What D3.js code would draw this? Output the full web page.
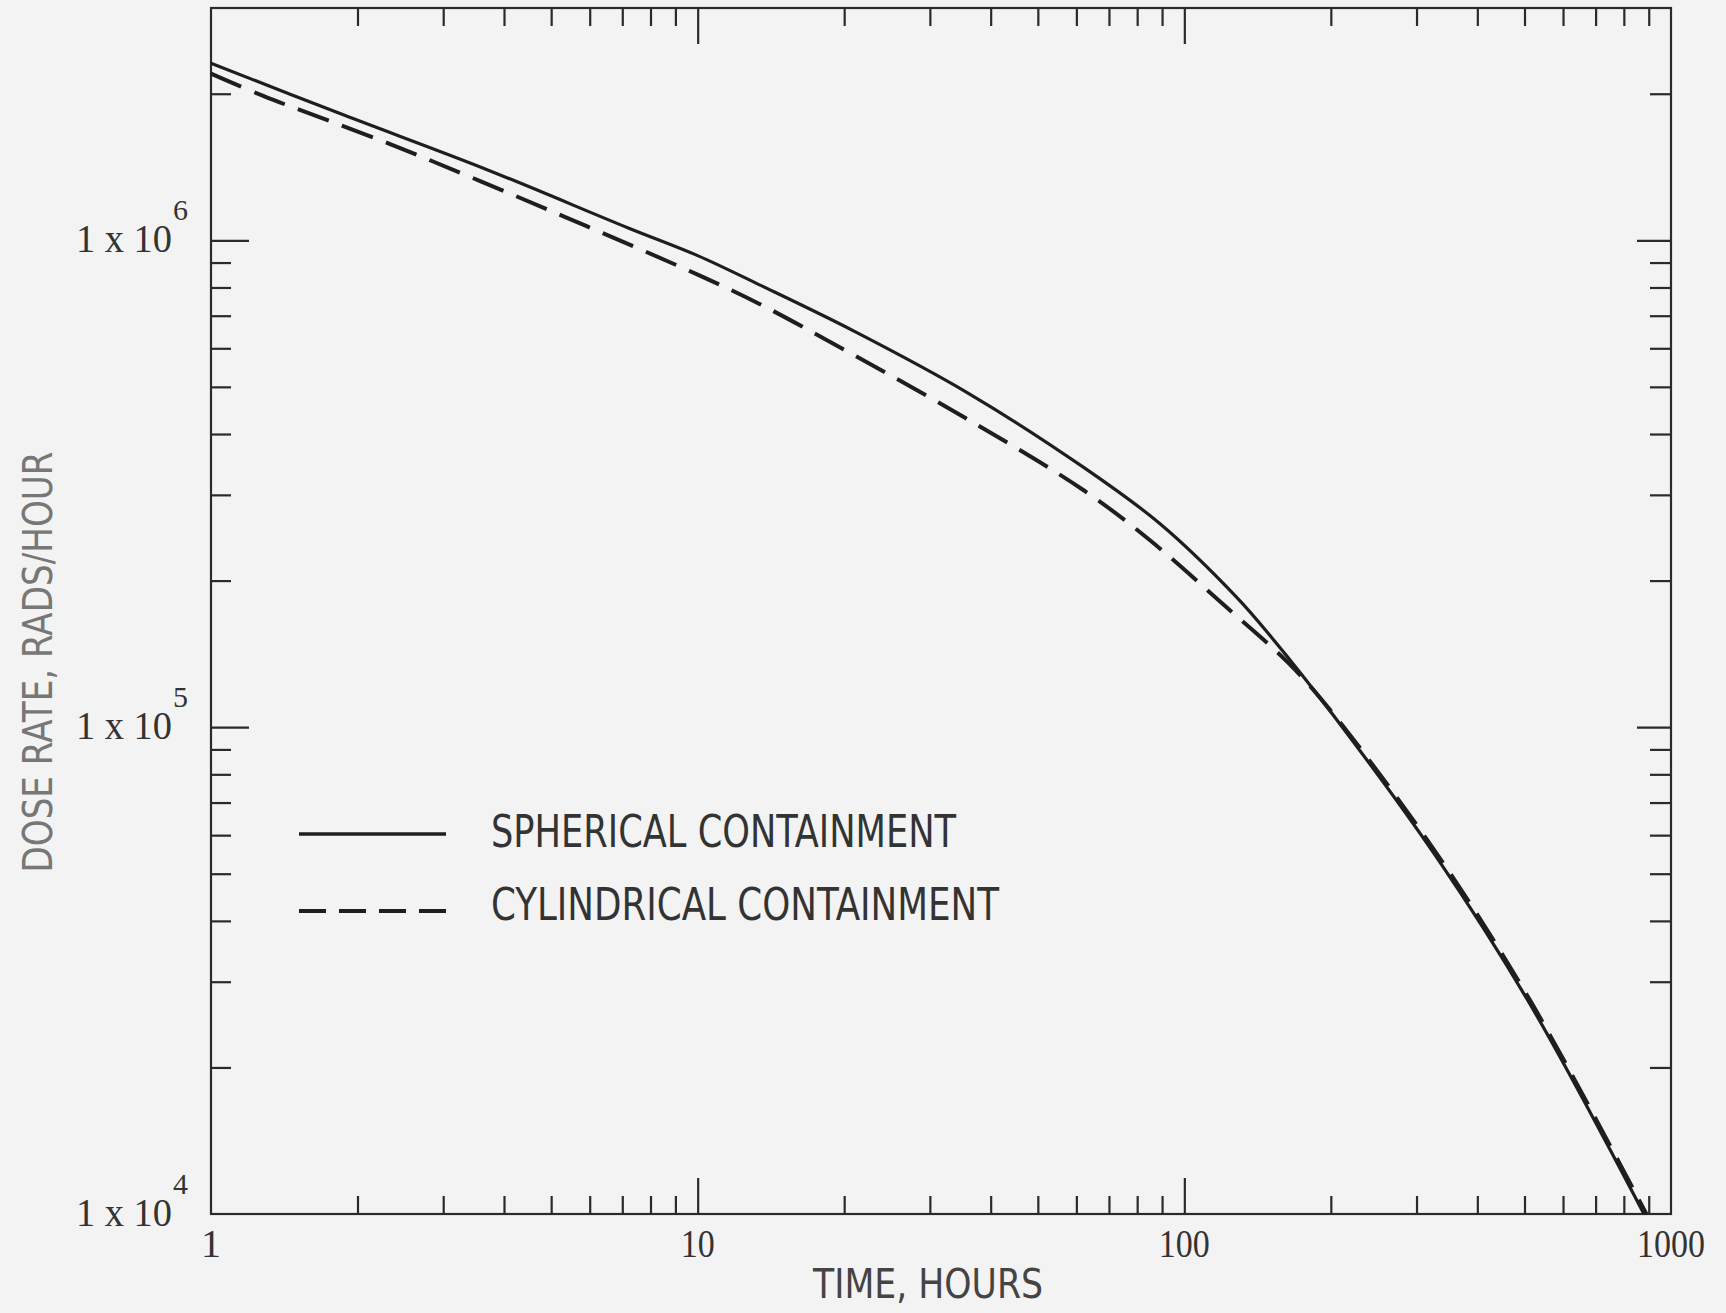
<!DOCTYPE html>
<html>
<head>
<meta charset="utf-8">
<script src="https://cdn.jsdelivr.net/npm/d3@7"></script>
<style>
  html, body { margin: 0; padding: 0; background: #f3f3f3; }
  svg { display: block; }
</style>
</head>
<body>
<div class="chart"></div>
<script>
/* ---- data ---- */

// spherical containment (solid)
var timeSpherical = [1, 1.87, 3.67, 7.2, 10, 13.4, 21, 36, 62, 89, 128, 151, 202, 330, 513, 880];
var doseSpherical = [2.31e6, 1.81e6, 1.40e6, 1.06e6, 9.3e5, 8.1e5, 6.5e5, 4.85e5, 3.42e5, 2.62e5,
                     1.85e5, 1.53e5, 1.06e5, 5.4e4, 2.7e4, 1.0e4];

// cylindrical containment (dashed)
var timeCylindrical = [1, 1.28, 2.32, 5.3, 10, 13.4, 21, 36, 62, 85, 120, 163, 200, 330, 513, 890];
var doseCylindrical = [2.20e6, 1.98e6, 1.58e6, 1.12e6, 8.5e5, 7.4e5, 5.8e5, 4.28e5, 3.07e5, 2.42e5,
                       1.79e5, 1.36e5, 1.08e5, 5.5e4, 2.75e4, 1.0e4];

// axes
var xMajorTicks = [10, 100];
var xMinorTicks = [2, 3, 4, 5, 6, 7, 8, 9, 20, 30, 40, 50, 60, 70, 80, 90,
                   200, 300, 400, 500, 600, 700, 800, 900];
var xTickLabels = [1, 10, 100, 1000];
var yMajorTicks = [1e5, 1e6];
var yMinorTicks = [2e4, 3e4, 4e4, 5e4, 6e4, 7e4, 8e4, 9e4,
                   2e5, 3e5, 4e5, 5e5, 6e5, 7e5, 8e5, 9e5, 2e6];
var yTickExponents = [4, 5, 6];

var legendLabels = ['SPHERICAL CONTAINMENT', 'CYLINDRICAL CONTAINMENT'];

/**
 * Setup drawing area
 */
var width = 1726;
var height = 1313;
var plotLeft = 211, plotRight = 1671, plotTop = 8, plotBottom = 1214;
var ink = '#2a2a2a';

var svg = d3.select('.chart').append('svg')
    .attr('width', width)
    .attr('height', height);

svg.append('rect')
    .attr('width', width)
    .attr('height', height)
    .style('fill', '#f3f3f3');

var x = d3.scaleLog().domain([1, 1000]).range([plotLeft, plotRight]);
var y = d3.scaleLog().domain([1e4, 3e6]).range([plotBottom, plotTop]);

/**
 * Ticks - all pointing inward, drawn with d3 axes
 */
function tickAxis(axisFn, scale, values, size, transform) {
    var g = svg.append('g')
        .attr('transform', transform)
        .call(axisFn(scale).tickValues(values).tickSize(size).tickFormat(''));
    g.select('.domain').remove();
    g.selectAll('line').attr('stroke', ink).attr('stroke-width', 2.2);
}

tickAxis(d3.axisBottom, x, xMinorTicks, -18, 'translate(0,' + plotBottom + ')');
tickAxis(d3.axisBottom, x, xMajorTicks, -36, 'translate(0,' + plotBottom + ')');
tickAxis(d3.axisTop, x, xMinorTicks, -18, 'translate(0,' + plotTop + ')');
tickAxis(d3.axisTop, x, xMajorTicks, -36, 'translate(0,' + plotTop + ')');
tickAxis(d3.axisLeft, y, yMinorTicks, -20, 'translate(' + plotLeft + ',0)');
tickAxis(d3.axisLeft, y, yMajorTicks, -38, 'translate(' + plotLeft + ',0)');
tickAxis(d3.axisRight, y, yMinorTicks, -21, 'translate(' + plotRight + ',0)');
tickAxis(d3.axisRight, y, yMajorTicks, -34, 'translate(' + plotRight + ',0)');

// Frame
svg.append('rect')
    .attr('x', plotLeft)
    .attr('y', plotTop)
    .attr('width', plotRight - plotLeft)
    .attr('height', plotBottom - plotTop)
    .style('fill', 'none')
    .style('stroke', ink)
    .style('stroke-width', 2.2);

/**
 * Tick labels
 */
var labelFont = '"Liberation Serif", "DejaVu Serif", serif';

svg.selectAll('.x-label')
    .data(xTickLabels)
  .enter().append('text')
    .attr('class', 'x-label')
    .attr('x', function (d) { return x(d); })
    .attr('y', 1257)
    .attr('text-anchor', 'middle')
    .attr('font-family', labelFont)
    .attr('font-size', 40)
    .attr('fill', '#333')
    .attr('textLength', function (d) { var n = String(d).length; return n > 1 ? n * 17 : null; })
    .attr('lengthAdjust', 'spacingAndGlyphs')
    .text(function (d) { return d; });

var yLabels = svg.selectAll('.y-label')
    .data(yTickExponents)
  .enter().append('g')
    .attr('class', 'y-label')
    .attr('transform', function (d) { return 'translate(0,' + y(Math.pow(10, d)) + ')'; });

yLabels.append('text')
    .attr('x', 172)
    .attr('y', 12)
    .attr('text-anchor', 'end')
    .attr('font-family', labelFont)
    .attr('font-size', 40)
    .attr('fill', '#333')
    .attr('textLength', 96)
    .attr('lengthAdjust', 'spacingAndGlyphs')
    .text('1 x 10');

yLabels.append('text')
    .attr('x', 173)
    .attr('y', -20)
    .attr('font-family', labelFont)
    .attr('font-size', 29)
    .attr('fill', '#333')
    .attr('textLength', 15)
    .attr('lengthAdjust', 'spacingAndGlyphs')
    .text(function (d) { return d; });

/**
 * Axis titles
 */
svg.append('text')
    .attr('x', 928)
    .attr('y', 1298)
    .attr('text-anchor', 'middle')
    .attr('font-family', '"DejaVu Sans", sans-serif')
    .attr('font-size', 40)
    .attr('fill', '#444')
    .attr('textLength', 230)
    .attr('lengthAdjust', 'spacingAndGlyphs')
    .text('TIME, HOURS');

svg.append('text')
    .attr('transform', 'translate(52,662) rotate(-90)')
    .attr('text-anchor', 'middle')
    .attr('font-family', '"DejaVu Sans", sans-serif')
    .attr('font-size', 40)
    .attr('fill', '#777')
    .attr('textLength', 421)
    .attr('lengthAdjust', 'spacingAndGlyphs')
    .text('DOSE RATE,  RADS/HOUR');

/**
 * Curves
 */
var line = d3.line()
    .x(function (d) { return x(d[0]); })
    .y(function (d) { return y(d[1]); })
    .curve(d3.curveCatmullRom.alpha(0.5));

svg.append('path')
    .datum(d3.zip(timeSpherical, doseSpherical))
    .attr('d', line)
    .style('fill', 'none')
    .style('stroke', '#1e1e1e')
    .style('stroke-width', 3.2);

svg.append('path')
    .datum(d3.zip(timeCylindrical, doseCylindrical))
    .attr('d', line)
    .style('fill', 'none')
    .style('stroke', '#1e1e1e')
    .style('stroke-width', 4)
    .style('stroke-dasharray', '33,14');

/**
 * Legend
 */
var legendFont = '"Liberation Sans Narrow", "DejaVu Sans Condensed", "Liberation Sans", sans-serif';
var legend = svg.selectAll('.legend')
    .data(legendLabels)
  .enter().append('g')
    .attr('class', 'legend')
    .attr('transform', function (d, i) { return 'translate(0,' + (834 + i * 77) + ')'; });

legend.append('line')
    .attr('x1', 299)
    .attr('x2', 446)
    .style('stroke', '#1e1e1e')
    .style('stroke-width', function (d, i) { return i ? 4 : 3.4; })
    .style('stroke-dasharray', function (d, i) { return i ? '27,13' : null; });

legend.append('text')
    .attr('x', 491)
    .attr('y', function (d, i) { return i ? 9 : 13; })
    .attr('font-family', legendFont)
    .attr('font-size', 44)
    .attr('fill', '#333')
    .attr('textLength', function (d, i) { return i ? 508 : 465; })
    .attr('lengthAdjust', 'spacingAndGlyphs')
    .text(function (d) { return d; });
</script>
</body>
</html>
